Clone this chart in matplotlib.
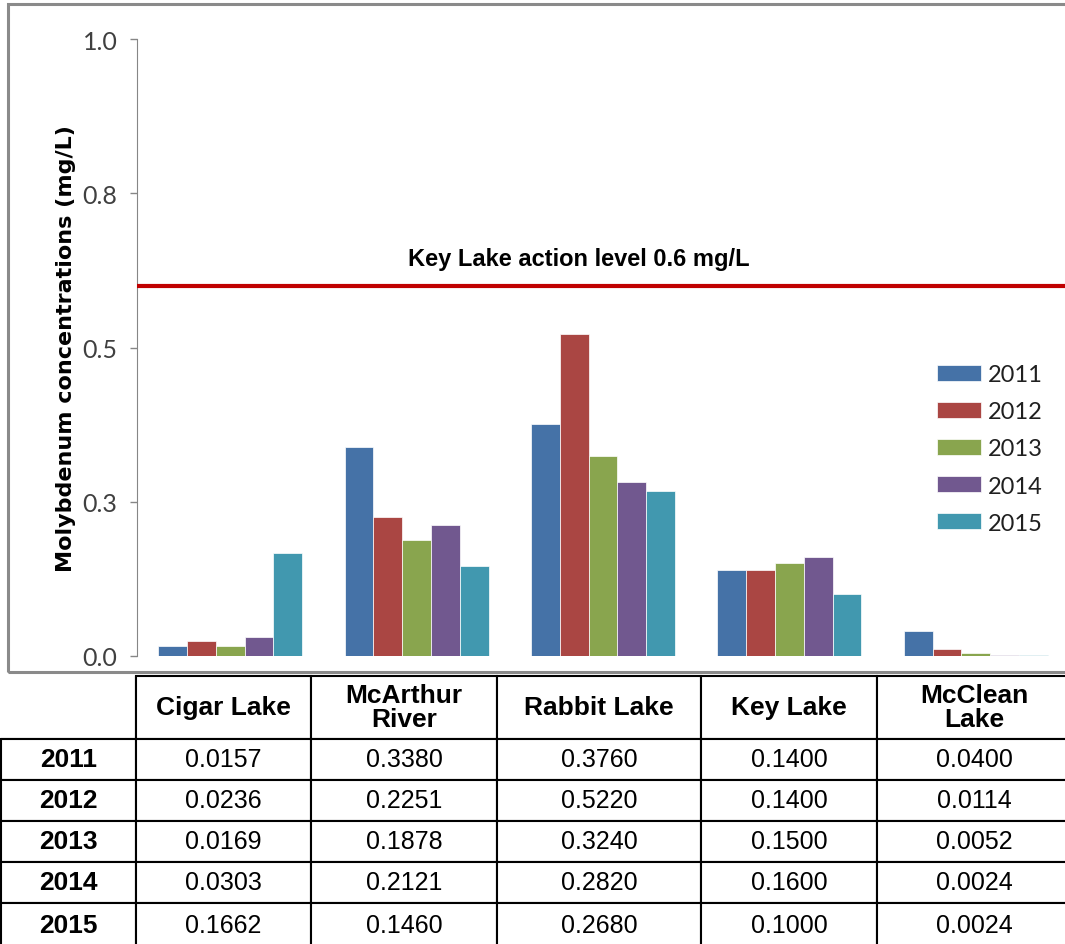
import numpy as np
import matplotlib as mpl
mpl.use('Agg')
import matplotlib.pyplot as plt
from matplotlib.patches import Rectangle

# data (table values drive the bars too)
sites = ['Cigar Lake', 'McArthur\nRiver', 'Rabbit Lake', 'Key Lake', 'McClean\nLake']
years = ['2011', '2012', '2013', '2014', '2015']
mo_2011 = [0.0157, 0.3380, 0.3760, 0.1400, 0.0400]
mo_2012 = [0.0236, 0.2251, 0.5220, 0.1400, 0.0114]
mo_2013 = [0.0169, 0.1878, 0.3240, 0.1500, 0.0052]
mo_2014 = [0.0303, 0.2121, 0.2820, 0.1600, 0.0024]
mo_2015 = [0.1662, 0.1460, 0.2680, 0.1000, 0.0024]
action_level = 0.6
y_ticks = [0.0, 0.25, 0.5, 0.75, 1.0]
y_tick_labels = ['0.0', '0.3', '0.5', '0.8', '1.0']   # excel rounds 0.25 up

series = [mo_2011, mo_2012, mo_2013, mo_2014, mo_2015]
colors = ['#4572A7', '#AA4643', '#89A54E', '#71588F', '#4198AF']

narrow = ['Lato', 'DejaVu Sans']
arial = ['Liberation Sans', 'DejaVu Sans']

W, H = 1065, 945
fig = plt.figure(figsize=(W / 100, H / 100), dpi=100)

# chart frame (grey border, runs off the right edge)
fig.patches.append(Rectangle((8 / W, 1 - 673 / H), 1.2, (673 - 5) / H, transform=fig.transFigure,
                             fill=False, edgecolor='#8a8a8a', lw=2.2, zorder=0))

ax = fig.add_axes([137 / W, 1 - 657 / H, (1069 - 137) / W, (657 - 40) / H])
x = np.arange(len(sites))
bw = 0.1543
for j, vals in enumerate(series):
    ax.bar(x + (j - 2) * bw, vals, width=bw, color=colors[j], edgecolor='white', lw=0.5,
           label=years[j], zorder=2)

ax.axhline(action_level, color='#C00000', lw=3, zorder=3)
ax.text(1.87, action_level + 0.045, 'Key Lake action level 0.6 mg/L', ha='center', va='center',
        fontsize=17, fontweight='bold', family=arial)

ax.set_xlim(-0.5, 4.5)
ax.set_ylim(0, 1.0)
ax.set_yticks(y_ticks)
ax.set_yticklabels(y_tick_labels, family=narrow, fontsize=18, color='#404040')
ax.set_xticks([])
ax.tick_params(axis='y', direction='out', length=5, width=1, color='#868686', pad=9)
for s in ['top', 'right', 'bottom']:
    ax.spines[s].set_visible(False)
ax.spines['left'].set_color('#868686')
ax.set_ylabel('Molybdenum concentrations (mg/L)', fontsize=16, fontweight='bold', family='DejaVu Sans')
ax.yaxis.set_label_coords(-0.065, 0.5)

leg = ax.legend(loc='center left', bbox_to_anchor=(937 / W, 1 - 450 / H), bbox_transform=fig.transFigure,
                frameon=False, borderpad=0, borderaxespad=0, handlelength=1.85, handleheight=0.66,
                handletextpad=0.3, labelspacing=0.68, prop={'family': narrow, 'size': 17})
for t in leg.get_texts():
    t.set_color('#202020')

# data table below the chart
tab_ax = fig.add_axes([0, 0, 1, 1])
tab_ax.axis('off')
cell_text = [[''] + sites]
for yr, vals in zip(years, series):
    cell_text.append([yr] + ['%.4f' % v for v in vals])
col_px = [135, 175, 186, 204, 176, 195]
row_px = [63] + [41] * len(years)
tbl = tab_ax.table(cellText=cell_text, cellLoc='center',
                   colWidths=[c / W for c in col_px],
                   bbox=[1 / W, 1 - (677 + sum(row_px) + 3) / H, sum(col_px) / W, (sum(row_px) + 3) / H])
tbl.auto_set_font_size(False)
for (r, c), cell in tbl.get_celld().items():
    cell.set_height((row_px[r] + (3 if r == len(years) else 0)) / H)
    cell.set_linewidth(1.5)
    cell.set_edgecolor('black')
    t = cell.get_text()
    t.set_fontfamily(arial)
    t.set_linespacing(1.0)
    if r == 0 or c == 0:
        t.set_fontweight('bold')
        t.set_fontsize(19)
    else:
        t.set_fontsize(18)
    if r == 0 and c == 0:
        cell.visible_edges = 'BR'

fig.savefig('out.png', dpi=100)
